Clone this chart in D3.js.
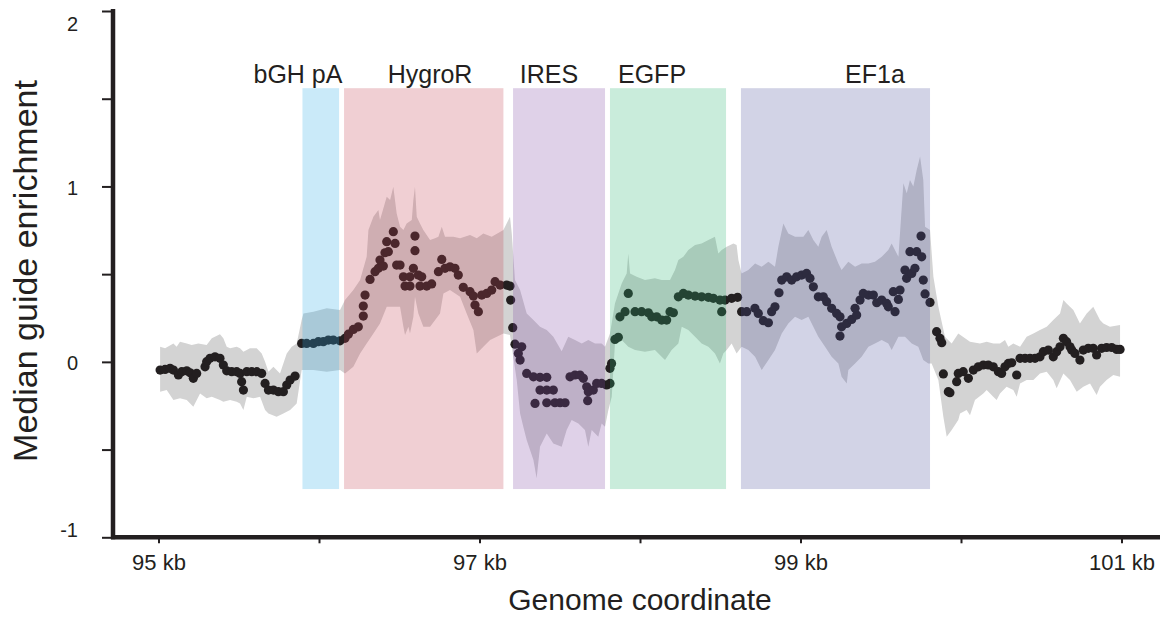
<!DOCTYPE html>
<html>
<head>
<meta charset="utf-8">
<script src="https://cdn.jsdelivr.net/npm/d3@7"></script>
<style>
  body { margin: 0; background: #fff; }
  svg { display: block; font-family: Arial, "Liberation Sans", sans-serif; }
  .tick text { fill: #231f20; }
</style>
</head>
<body>
<svg width="1170" height="621"></svg>
<script>
// median guide enrichment per position, [kb, value]
const medians = [
  [95.010,-0.047],[95.041,-0.043],[95.072,-0.037],[95.093,-0.047],[95.124,-0.075],[95.145,-0.056],
  [95.176,-0.051],[95.197,-0.062],[95.217,-0.094],[95.238,-0.066],[95.290,-0.028],[95.300,0.001],
  [95.321,0.020],[95.352,0.029],[95.383,0.020],[95.404,-0.018],[95.425,-0.051],[95.456,-0.056],
  [95.487,-0.056],[95.508,-0.066],[95.518,-0.113],[95.529,-0.161],[95.550,-0.056],[95.581,-0.056],
  [95.612,-0.056],[95.643,-0.066],[95.664,-0.123],[95.685,-0.161],[95.716,-0.161],[95.747,-0.170],
  [95.778,-0.170],[95.799,-0.132],[95.820,-0.104],[95.851,-0.081],
  [95.892,0.105],[95.923,0.105],[95.965,0.105],[95.996,0.115],[96.027,0.115],[96.058,0.124],
  [96.089,0.124],[96.131,0.120],[96.162,0.134],[96.183,0.158],[96.214,0.185],[96.245,0.200],
  [96.276,0.261],[96.276,0.318],[96.287,0.381],[96.318,0.470],[96.349,0.514],[96.370,0.533],
  [96.380,0.580],[96.401,0.546],[96.411,0.622],[96.432,0.628],[96.422,0.685],[96.463,0.742],
  [96.474,0.675],[96.484,0.552],[96.505,0.552],[96.526,0.485],[96.536,0.432],[96.567,0.432],
  [96.567,0.485],[96.588,0.533],[96.598,0.634],[96.598,0.717],[96.619,0.495],[96.629,0.432],
  [96.640,0.485],[96.671,0.432],[96.702,0.444],[96.744,0.514],[96.765,0.584],[96.785,0.533],
  [96.816,0.542],[96.847,0.533],[96.868,0.495],[96.899,0.425],[96.941,0.400],[96.962,0.375],
  [96.972,0.324],[96.993,0.286],[97.014,0.381],[97.045,0.390],[97.076,0.409],[97.097,0.457],
  [97.128,0.438],[97.169,0.438],[97.190,0.432],[97.194,0.352],[97.207,0.195],[97.221,0.101],
  [97.263,0.086],[97.242,0.048],[97.253,0.010],[97.294,-0.066],[97.336,-0.085],[97.377,-0.088],
  [97.419,-0.088],[97.377,-0.161],[97.419,-0.161],[97.460,-0.161],[97.346,-0.237],[97.419,-0.233],
  [97.470,-0.233],[97.502,-0.233],[97.533,-0.233],[97.564,-0.085],[97.595,-0.075],[97.626,-0.075],
  [97.647,-0.094],[97.668,-0.142],[97.678,-0.170],[97.674,-0.221],[97.709,-0.161],[97.730,-0.123],
  [97.761,-0.123],[97.792,-0.132],[97.813,-0.123],[97.813,-0.037],[97.823,-0.009],[97.844,0.128],
  [97.865,0.140],[97.875,0.257],[97.907,0.286],[97.927,0.390],[97.969,0.286],[98.010,0.286],
  [98.052,0.280],[98.073,0.257],[98.104,0.257],[98.135,0.238],[98.166,0.238],[98.187,0.286],
  [98.208,0.280],[98.239,0.371],[98.270,0.390],[98.301,0.381],[98.343,0.375],[98.384,0.371],
  [98.426,0.368],[98.457,0.362],[98.498,0.352],[98.509,0.286],[98.530,0.352],[98.571,0.362],
  [98.608,0.368],[98.633,0.286],[98.665,0.286],[98.716,0.305],[98.737,0.276],[98.768,0.235],
  [98.800,0.223],[98.820,0.286],[98.841,0.314],[98.866,0.394],[98.883,0.466],[98.914,0.485],
  [98.945,0.466],[98.976,0.485],[99.007,0.495],[99.038,0.504],[99.059,0.476],[99.080,0.428],
  [99.111,0.371],[99.142,0.371],[99.163,0.343],[99.194,0.305],[99.225,0.276],[99.246,0.257],
  [99.246,0.147],[99.256,0.200],[99.288,0.219],[99.319,0.242],[99.350,0.267],[99.340,0.305],
  [99.371,0.352],[99.391,0.390],[99.423,0.381],[99.454,0.381],[99.475,0.337],[99.506,0.352],
  [99.537,0.333],[99.547,0.314],[99.578,0.400],[99.589,0.286],[99.610,0.356],[99.620,0.409],
  [99.651,0.523],[99.661,0.476],[99.682,0.628],[99.693,0.504],[99.713,0.533],[99.724,0.628],
  [99.755,0.599],[99.751,0.717],[99.765,0.466],[99.776,0.387],[99.807,0.339],[99.848,0.172],
  [99.869,0.134],[99.880,0.109],[99.890,-0.069],[99.921,-0.170],[99.931,-0.176],
  [99.973,-0.113],[99.983,-0.066],[100.014,-0.056],[100.046,-0.094],[100.077,-0.047],[100.108,-0.028],
  [100.139,-0.018],[100.170,-0.018],[100.201,-0.028],[100.233,-0.056],[100.253,-0.066],[100.274,-0.028],
  [100.295,-0.009],[100.316,-0.005],[100.347,-0.075],[100.368,0.020],[100.399,0.020],[100.430,0.020],
  [100.461,0.020],[100.492,0.029],[100.513,0.058],[100.544,0.067],[100.575,0.029],[100.596,0.058],
  [100.617,0.086],[100.638,0.134],[100.658,0.115],[100.679,0.086],[100.690,0.067],[100.710,0.048],
  [100.741,0.010],[100.762,0.067],[100.793,0.077],[100.824,0.077],[100.845,0.039],[100.876,0.077],
  [100.907,0.082],[100.939,0.082],[100.970,0.071],[100.991,0.071]
];

// upper edge of the spread band, [kb, value]
const bandUpper = [
  [95.010,0.086],[95.041,0.077],[95.093,0.105],[95.113,0.086],[95.134,0.115],[95.176,0.105],
  [95.207,0.096],[95.248,0.105],[95.300,0.096],[95.332,0.134],[95.383,0.158],[95.404,0.134],
  [95.425,0.086],[95.446,0.077],[95.487,0.086],[95.508,0.077],[95.529,0.058],[95.550,0.067],
  [95.570,0.077],[95.612,0.077],[95.643,0.048],[95.664,0.001],[95.685,-0.056],[95.716,-0.028],
  [95.757,-0.066],[95.799,0.048],[95.830,0.086],[95.861,0.105],[95.892,0.238],[95.903,0.276],
  [95.965,0.286],[96.048,0.305],[96.131,0.295],[96.162,0.352],[96.214,0.409],[96.256,0.466],
  [96.297,0.599],[96.308,0.751],[96.339,0.827],[96.370,0.865],[96.380,0.808],[96.422,0.941],
  [96.443,0.922],[96.463,0.998],[96.484,0.846],[96.505,0.770],[96.526,0.751],[96.546,0.789],
  [96.578,0.808],[96.588,0.922],[96.598,0.998],[96.609,0.827],[96.629,0.789],[96.650,0.751],
  [96.692,0.694],[96.723,0.704],[96.744,0.713],[96.765,0.770],[96.785,0.713],[96.837,0.713],
  [96.879,0.704],[96.941,0.723],[96.983,0.704],[97.024,0.732],[97.076,0.713],[97.149,0.751],
  [97.190,0.827],[97.201,0.732],[97.221,0.466],[97.253,0.409],[97.294,0.276],[97.336,0.238],
  [97.377,0.200],[97.419,0.181],[97.460,0.143],[97.512,0.060],[97.553,0.143],[97.595,0.124],
  [97.637,0.105],[97.678,0.124],[97.720,0.105],[97.761,0.105],[97.782,0.086],[97.813,0.162],
  [97.844,0.333],[97.886,0.447],[97.917,0.504],[97.927,0.618],[97.938,0.504],[97.979,0.485],
  [98.031,0.466],[98.093,0.476],[98.135,0.466],[98.187,0.466],[98.218,0.523],[98.239,0.580],
  [98.270,0.599],[98.301,0.637],[98.343,0.666],[98.384,0.675],[98.426,0.694],[98.467,0.713],
  [98.488,0.618],[98.509,0.637],[98.540,0.656],[98.582,0.675],[98.602,0.666],[98.613,0.580],
  [98.633,0.504],[98.675,0.523],[98.717,0.561],[98.758,0.542],[98.800,0.571],[98.841,0.542],
  [98.862,0.656],[98.893,0.789],[98.924,0.732],[98.966,0.713],[99.018,0.713],[99.049,0.751],
  [99.080,0.694],[99.111,0.656],[99.132,0.713],[99.163,0.751],[99.194,0.656],[99.236,0.561],
  [99.256,0.523],[99.298,0.571],[99.340,0.542],[99.381,0.561],[99.423,0.561],[99.464,0.571],
  [99.506,0.599],[99.547,0.637],[99.568,0.675],[99.610,0.599],[99.641,1.018],[99.662,0.961],
  [99.682,1.037],[99.703,0.999],[99.724,1.094],[99.745,1.170],[99.765,1.037],[99.776,0.770],
  [99.807,0.751],[99.828,0.485],[99.859,0.314],[99.900,0.143],[99.942,0.105],[99.983,0.162],
  [100.056,0.115],[100.118,0.105],[100.160,0.115],[100.201,0.105],[100.243,0.105],[100.274,0.124],
  [100.295,0.086],[100.326,0.105],[100.368,0.086],[100.409,0.143],[100.451,0.162],[100.492,0.181],
  [100.534,0.200],[100.575,0.238],[100.617,0.276],[100.638,0.352],[100.658,0.333],[100.700,0.295],
  [100.741,0.219],[100.783,0.276],[100.824,0.314],[100.866,0.238],[100.887,0.219],[100.928,0.200],
  [100.991,0.210]
];

// lower edge of the spread band, [kb, value]
const bandLower = [
  [95.010,-0.170],[95.051,-0.161],[95.093,-0.218],[95.134,-0.208],[95.176,-0.218],[95.217,-0.256],
  [95.259,-0.180],[95.300,-0.208],[95.332,-0.199],[95.383,-0.218],[95.404,-0.227],[95.446,-0.218],
  [95.487,-0.227],[95.508,-0.237],[95.529,-0.275],[95.550,-0.199],[95.591,-0.208],[95.633,-0.199],
  [95.664,-0.275],[95.685,-0.294],[95.736,-0.313],[95.778,-0.294],[95.820,-0.275],[95.861,-0.237],
  [95.892,-0.047],[95.965,-0.047],[96.048,-0.056],[96.131,-0.047],[96.162,-0.066],[96.214,-0.028],
  [96.256,0.048],[96.297,0.105],[96.339,0.162],[96.380,0.219],[96.422,0.314],[96.463,0.314],
  [96.505,0.314],[96.526,0.200],[96.536,0.153],[96.557,0.200],[96.567,0.162],[96.588,0.257],
  [96.598,0.371],[96.619,0.276],[96.650,0.200],[96.692,0.200],[96.754,0.276],[96.775,0.390],
  [96.816,0.409],[96.879,0.371],[96.920,0.276],[96.962,0.181],[96.983,0.048],[97.024,0.086],
  [97.066,0.124],[97.149,0.162],[97.190,0.153],[97.232,-0.104],[97.253,-0.294],[97.273,-0.370],
  [97.294,-0.446],[97.336,-0.560],[97.356,-0.664],[97.377,-0.484],[97.419,-0.408],[97.460,-0.465],
  [97.512,-0.484],[97.543,-0.389],[97.574,-0.332],[97.616,-0.351],[97.657,-0.389],[97.678,-0.484],
  [97.699,-0.389],[97.740,-0.427],[97.761,-0.351],[97.782,-0.370],[97.803,-0.275],[97.824,-0.199],
  [97.844,0.105],[97.886,0.124],[97.927,0.086],[97.969,0.067],[98.031,0.058],[98.093,0.067],
  [98.135,0.029],[98.156,0.010],[98.197,0.067],[98.239,0.105],[98.260,0.200],[98.301,0.181],
  [98.343,0.143],[98.384,0.105],[98.426,0.086],[98.467,0.048],[98.498,-0.009],[98.519,0.048],
  [98.540,0.067],[98.571,0.105],[98.602,0.048],[98.633,0.086],[98.675,0.067],[98.717,0.029],
  [98.758,-0.047],[98.800,0.010],[98.841,0.067],[98.883,0.162],[98.924,0.219],[98.966,0.257],
  [99.007,0.238],[99.049,0.257],[99.080,0.200],[99.111,0.143],[99.153,0.086],[99.194,0.029],
  [99.236,-0.009],[99.256,-0.085],[99.288,-0.123],[99.298,-0.047],[99.340,-0.009],[99.381,0.029],
  [99.423,0.086],[99.464,0.105],[99.506,0.124],[99.547,0.105],[99.568,0.067],[99.610,0.143],
  [99.651,0.143],[99.693,0.105],[99.734,0.086],[99.765,0.010],[99.796,-0.009],[99.817,-0.009],
  [99.859,-0.104],[99.890,-0.313],[99.911,-0.427],[99.942,-0.389],[99.983,-0.332],[99.994,-0.294],
  [100.035,-0.275],[100.056,-0.304],[100.087,-0.218],[100.139,-0.180],[100.160,-0.161],[100.201,-0.199],
  [100.222,-0.218],[100.243,-0.180],[100.284,-0.142],[100.326,-0.161],[100.347,-0.199],[100.368,-0.123],
  [100.409,-0.104],[100.451,-0.104],[100.492,-0.066],[100.534,-0.056],[100.575,-0.104],[100.596,-0.151],
  [100.638,-0.066],[100.679,-0.104],[100.721,-0.170],[100.762,-0.142],[100.804,-0.123],[100.845,-0.189],
  [100.866,-0.142],[100.907,-0.104],[100.949,-0.075],[100.991,-0.085]
];

// construct elements
const regionNames = ["bGH pA", "HygroR", "IRES", "EGFP", "EF1a"];
const regionStart = [95.897, 96.156, 97.209, 97.813, 98.629];
const regionEnd = [96.125, 97.149, 97.782, 98.536, 99.807];
const regionLabelAt = [95.869, 96.692, 97.433, 98.075, 99.464];
const regionColors = ["#2babe7", "#c33f4f", "#7f47a3", "#27b36f", "#4b4f9b"];
const regionTop = 1.56, regionBottom = -0.725;

const xTicks = [95, 96, 97, 98, 99, 100, 101];
const xTickLabels = ["95 kb", "", "97 kb", "", "99 kb", "", "101 kb"];
const yTicks = [-1, -0.5, 0, 0.5, 1, 1.5, 2];

const svg = d3.select("svg");
const ink = "#231f20";

const x = d3.scaleLinear().domain([95, 101]).range([158.5, 1121.5]);
const y = d3.scaleLinear().domain([-1, 2]).range([537.3, 11]);

// grey spread band
const bandLine = d3.line().x(d => x(d[0])).y(d => y(d[1]));
svg.append("path")
  .attr("d", bandLine(bandUpper.concat(bandLower.slice().reverse())) + "Z")
  .attr("fill", "#d3d3d3");

// medians
svg.append("g")
  .selectAll("circle")
  .data(medians)
  .join("circle")
  .attr("cx", d => x(d[0]))
  .attr("cy", d => y(d[1]))
  .attr("r", 4.6)
  .attr("fill", ink);

// element boxes sit on top, translucent
svg.append("g")
  .selectAll("rect")
  .data(regionNames)
  .join("rect")
  .attr("x", (d, i) => x(regionStart[i]))
  .attr("width", (d, i) => x(regionEnd[i]) - x(regionStart[i]))
  .attr("y", y(regionTop))
  .attr("height", y(regionBottom) - y(regionTop))
  .attr("fill", (d, i) => regionColors[i])
  .attr("fill-opacity", 0.25);

svg.append("g")
  .selectAll("text")
  .data(regionNames)
  .join("text")
  .attr("x", (d, i) => x(regionLabelAt[i]))
  .attr("y", 83)
  .attr("text-anchor", "middle")
  .attr("font-size", 25)
  .attr("fill", ink)
  .text(d => d);

// y axis
const yAxis = svg.append("g")
  .attr("transform", "translate(113,0)")
  .call(d3.axisLeft(y)
    .tickValues(yTicks)
    .tickSize(11)
    .tickSizeOuter(0)
    .tickFormat(d => Number.isInteger(d) ? String(d) : ""));
yAxis.select(".domain").attr("stroke", ink).attr("stroke-width", 4.5)
  .attr("d", `M0,${y(2) - 2}V${y(-1) + 2}`);
yAxis.selectAll(".tick line").attr("stroke", ink).attr("stroke-width", 2);
yAxis.selectAll(".tick text")
  .attr("x", -35)
  .attr("dy", d => d === 2 ? "0.95em" : d === -1 ? "-0.05em" : "0.4em")
  .attr("font-size", 20)
  .attr("font-family", "Arial, 'Liberation Sans', sans-serif");

// x axis
const xAxis = svg.append("g")
  .attr("transform", `translate(0,${y(-1)})`)
  .call(d3.axisBottom(x)
    .tickValues(xTicks)
    .tickSize(6)
    .tickSizeOuter(0)
    .tickFormat((d, i) => xTickLabels[i]));
xAxis.select(".domain").attr("stroke", ink).attr("stroke-width", 4.5)
  .attr("d", "M111,0H1160");
xAxis.selectAll(".tick line").attr("stroke", ink).attr("stroke-width", 2);
xAxis.selectAll(".tick text")
  .attr("y", 17)
  .attr("dy", "0.71em")
  .attr("font-size", 22)
  .attr("font-family", "Arial, 'Liberation Sans', sans-serif");

// axis titles
svg.append("text")
  .attr("transform", "translate(37,271) rotate(-90)")
  .attr("text-anchor", "middle")
  .attr("font-size", 34)
  .attr("fill", ink)
  .text("Median guide enrichment");

svg.append("text")
  .attr("x", 640)
  .attr("y", 610)
  .attr("text-anchor", "middle")
  .attr("font-size", 30)
  .attr("fill", ink)
  .text("Genome coordinate");
</script>
</body>
</html>
